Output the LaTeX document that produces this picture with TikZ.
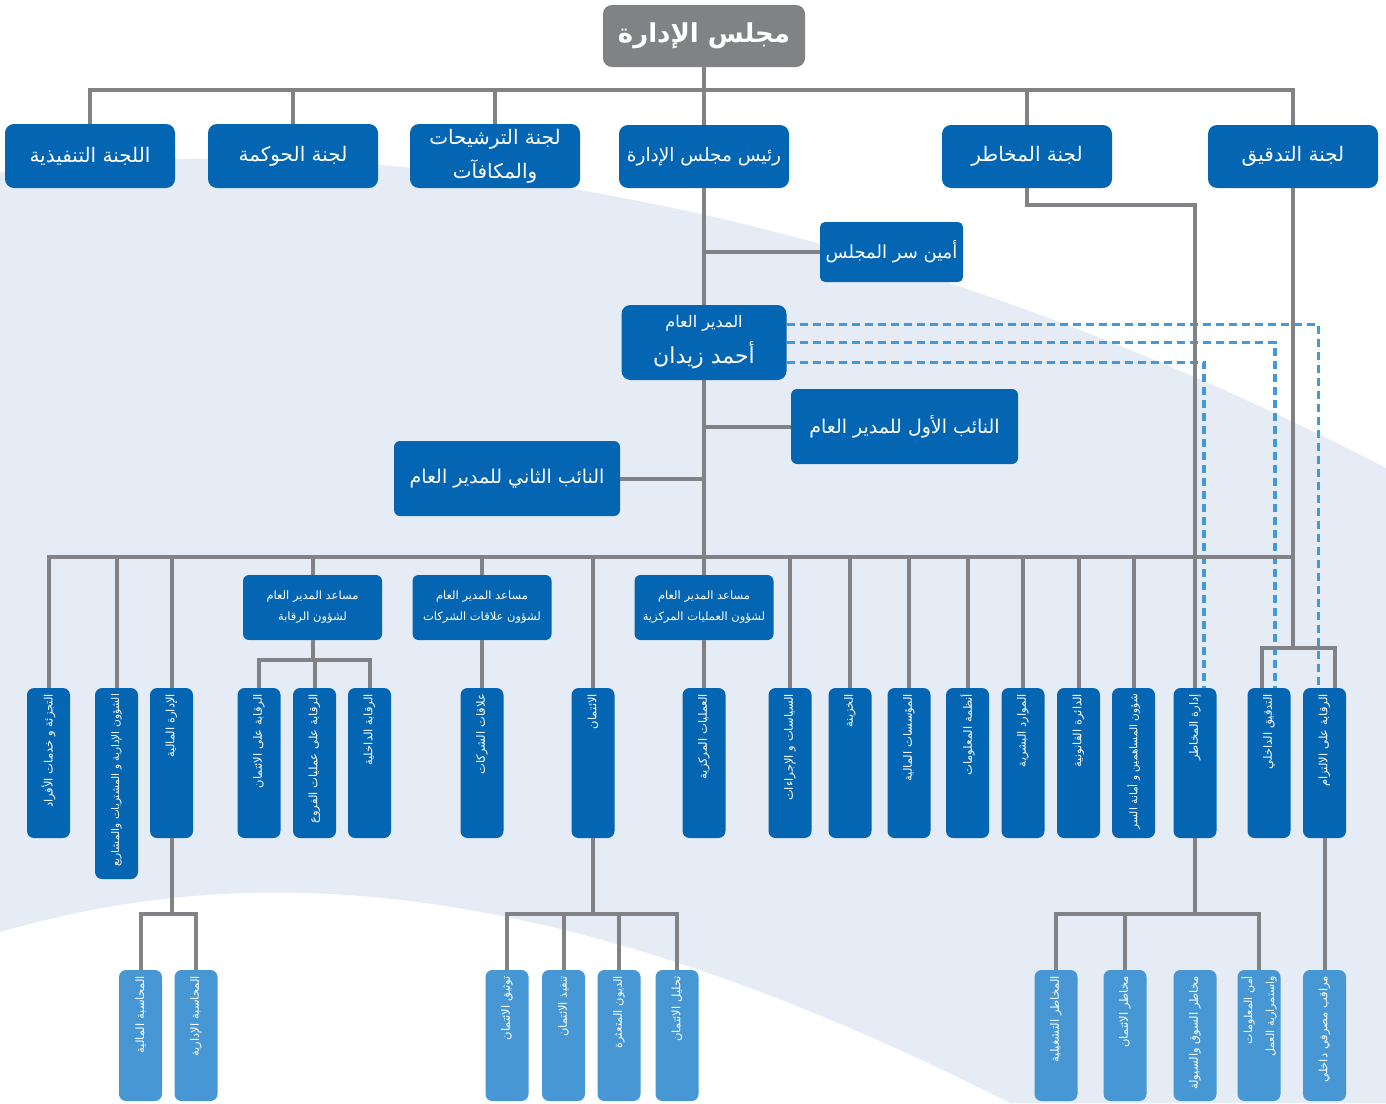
\documentclass[tikz,border=0pt]{standalone}
\usepackage{fontspec}
\TeXXeTstate=1
\newfontfamily\arabicfont[Script=Arabic]{DejaVu Sans}
\newcommand{\artxt}[1]{\beginR #1\endR}
\definecolor{boxblue}{HTML}{0465B2}
\definecolor{lightbox}{HTML}{4697D3}
\definecolor{linegray}{HTML}{818286}
\definecolor{dashblue}{HTML}{4499DA}
\definecolor{bgblue}{HTML}{E6ECF5}

\begin{document}
\begin{tikzpicture}[x=1pt,y=-1pt,
  conn/.style={draw=linegray,line width=4pt},
  dashlink/.style={draw=dashblue,line width=3.5pt,dash pattern=on 8pt off 5pt},
  hbox/.style={fill=boxblue,text=white,rounded corners=9pt,inner sep=0pt,
    align=center,minimum width=170pt,minimum height=64pt,
    font=\arabicfont\fontsize{20}{34}\selectfont},
  asstbox/.style={hbox,minimum width=139pt,minimum height=65pt,rounded corners=6pt,
    font=\arabicfont\fontsize{11.5}{21}\selectfont},
  vbox/.style={fill=boxblue,text=white,rounded corners=7pt,rotate=90,
    minimum width=#1,minimum height=43pt,text width=#1-12pt,align=right,
    inner xsep=6pt,inner ysep=0pt,font=\arabicfont\fontsize{11.5}{13}\selectfont},
  vbox/.default=150pt,
  lowbox/.style={vbox=131pt,fill=lightbox}]

  \useasboundingbox (0,0) rectangle (1386,1103);
  \fill[white] (0,0) rectangle (1386,1103);
  \fill[bgblue] (0,172) .. controls (250,140) and (750,140) .. (1386,468)
    -- (1386,1103) -- (1010,1103) .. controls (550,870) and (250,860) .. (0,932) -- cycle;

  % board and committees
  \node[hbox,fill=linegray,minimum width=202pt,minimum height=62pt,
    font=\arabicfont\bfseries\fontsize{26}{30}\selectfont] (board) at (704,36) {\artxt{مجلس الإدارة}};
  \node[hbox] (execcom) at (90,156) {\artxt{اللجنة التنفيذية}};
  \node[hbox] (govcom) at (293,156) {\artxt{لجنة الحوكمة}};
  \node[hbox] (nomcom) at (495,156) {\artxt{لجنة الترشيحات}\\\artxt{والمكافآت}};
  \node[hbox,minimum height=63pt,font=\arabicfont\fontsize{18.5}{22}\selectfont] (chair) at (704,156.5) {\artxt{رئيس مجلس الإدارة}};
  \node[hbox,minimum height=63pt] (riskcom) at (1027,156.5) {\artxt{لجنة المخاطر}};
  \node[hbox,minimum height=63pt] (auditcom) at (1293,156.5) {\artxt{لجنة التدقيق}};
  \node[hbox,minimum width=143pt,minimum height=60pt,rounded corners=5pt,
    font=\arabicfont\fontsize{18}{22}\selectfont] (secretary) at (891.5,252) {\artxt{أمين سر المجلس}};

  % executive management
  \node[hbox,minimum width=165pt,minimum height=75pt] (ceo) at (704,342.5)
    {{\fontsize{16}{18}\selectfont\artxt{المدير العام}}\\[2pt]{\fontsize{22}{24}\selectfont\artxt{أحمد زيدان}}};
  \node[hbox,minimum width=227pt,minimum height=75pt,rounded corners=6pt,
    font=\arabicfont\fontsize{19}{22}\selectfont] (dep1) at (904.5,426.5) {\artxt{النائب الأول للمدير العام}};
  \node[hbox,minimum width=226pt,minimum height=75pt,rounded corners=6pt,
    font=\arabicfont\fontsize{19}{22}\selectfont] (dep2) at (507,478.5) {\artxt{النائب الثاني للمدير العام}};

  \node[asstbox] (asstctrl) at (312.5,607.5) {\artxt{مساعد المدير العام}\\\artxt{لشؤون الرقابة}};
  \node[asstbox] (asstcorp) at (482,607.5) {\artxt{مساعد المدير العام}\\\artxt{لشؤون علاقات الشركات}};
  \node[asstbox] (asstops) at (704,607.5) {\artxt{مساعد المدير العام}\\\artxt{لشؤون العمليات المركزية}};

  % departments
  \node[vbox] (retail) at (48.5,763) {\artxt{التجزئة و خدمات الأفراد}};
  \node[vbox=191pt,font=\arabicfont\fontsize{10.5}{12}\selectfont] (admin) at (116.5,783.5) {\artxt{الشؤون الإدارية و المشتريات والمشاريع}};
  \node[vbox] (finance) at (171.5,763) {\artxt{الإدارة المالية}};
  \node[vbox] (ctrlcredit) at (259,763) {\artxt{الرقابة على الائتمان}};
  \node[vbox] (ctrlbranch) at (314.5,763) {\artxt{الرقابة على عمليات الفروع}};
  \node[vbox] (ctrlinternal) at (369.5,763) {\artxt{الرقابة الداخلية}};
  \node[vbox] (corprel) at (482,763) {\artxt{علاقات الشركات}};
  \node[vbox] (credit) at (593,763) {\artxt{الائتمان}};
  \node[vbox] (centralops) at (704,763) {\artxt{العمليات المركزية}};
  \node[vbox] (policies) at (790,763) {\artxt{السياسات و الإجراءات}};
  \node[vbox] (treasury) at (850,763) {\artxt{الخزينة}};
  \node[vbox] (finst) at (909,763) {\artxt{المؤسسات المالية}};
  \node[vbox] (infosys) at (967.5,763) {\artxt{أنظمة المعلومات}};
  \node[vbox] (hr) at (1023,763) {\artxt{الموارد البشرية}};
  \node[vbox] (legal) at (1078.5,763) {\artxt{الدائرة القانونية}};
  \node[vbox,font=\arabicfont\fontsize{10.5}{12}\selectfont] (shareholders) at (1133.5,763) {\artxt{شؤون المساهمين و أمانة السر}};
  \node[vbox] (riskmgmt) at (1195,763) {\artxt{إدارة المخاطر}};
  \node[vbox] (intaudit) at (1269,763) {\artxt{التدقيق الداخلي}};
  \node[vbox] (compliance) at (1324.5,763) {\artxt{الرقابة على الالتزام}};

  % sections
  \node[lowbox] (finacc) at (140.5,1035.5) {\artxt{المحاسبة المالية}};
  \node[lowbox] (mgmtacc) at (196,1035.5) {\artxt{المحاسبة الإدارية}};
  \node[lowbox] (creditdoc) at (507,1035.5) {\artxt{توثيق الائتمان}};
  \node[lowbox] (creditexec) at (563.5,1035.5) {\artxt{تنفيذ الائتمان}};
  \node[lowbox] (baddebt) at (619,1035.5) {\artxt{الديون المتعثرة}};
  \node[lowbox] (creditanal) at (677,1035.5) {\artxt{تحليل الائتمان}};
  \node[lowbox] (oprisk) at (1056,1035.5) {\artxt{المخاطر التشغيلية}};
  \node[lowbox] (creditrisk) at (1125,1035.5) {\artxt{مخاطر الائتمان}};
  \node[lowbox] (mktrisk) at (1195,1035.5) {\artxt{مخاطر السوق والسيولة}};
  \node[lowbox,font=\arabicfont\fontsize{11}{22}\selectfont] (infosec) at (1259,1035.5)
    {\artxt{أمن المعلومات}\\\artxt{واستمرارية العمل}};
  \node[lowbox] (bankobs) at (1324.5,1035.5) {\artxt{مراقب مصرفي داخلي}};

  \coordinate (topbar) at (0,90);
  \coordinate (riskbend) at (0,205);
  \coordinate (bus) at (0,557);
  \coordinate (auditbar) at (0,648);
  \coordinate (ctrlbar) at (0,660);
  \coordinate (lowbar) at (0,914);
  \coordinate (iaTop) at ([xshift=-7pt]intaudit.east);
  \coordinate (clTop) at ([xshift=10pt]compliance.east);

  % dotted reporting lines
  \draw[dashlink] ([yshift=18pt]ceo.east) -| ([xshift=-6pt]compliance.east);
  \draw[dashlink] (ceo.east) -| ([xshift=6pt]intaudit.east);
  \draw[dashlink] ([yshift=-20pt]ceo.east) -| ([xshift=9pt]riskmgmt.east);

  % solid lines
  \draw[conn] (execcom.north) |- (auditcom |- topbar) -- (auditcom.north);
  \foreach \n in {govcom,nomcom,riskcom}
    \draw[conn] (\n.north) -- (\n |- topbar);
  \draw[conn] (board.south) -- (chair.north);
  \draw[conn] (chair.south) -- (ceo.north);
  \draw[conn] (secretary.west) -- (secretary.west -| chair);
  \draw[conn] (ceo.south) -- (asstops.north);
  \draw[conn] (dep1.west) -- (dep1.west -| ceo);
  \draw[conn] (dep2.east) -- (dep2.east -| ceo);
  \draw[conn] (riskcom.south) |- (riskmgmt |- riskbend) -- (riskmgmt.east);

  \draw[conn] (retail.east) |- (auditcom |- bus);
  \draw[conn] (auditcom.south) -- (auditcom |- auditbar);
  \draw[conn] (iaTop) |- (clTop |- auditbar) -- (clTop);
  \foreach \n in {admin,finance,credit,policies,treasury,finst,infosys,hr,legal,shareholders}
    \draw[conn] (\n.east) -- (\n |- bus);
  \foreach \n in {asstctrl,asstcorp}
    \draw[conn] (\n.north) -- (\n |- bus);

  \draw[conn] (asstctrl.south) -- (asstctrl |- ctrlbar);
  \draw[conn] (ctrlcredit.east) |- (ctrlinternal |- ctrlbar) -- (ctrlinternal.east);
  \draw[conn] (ctrlbranch.east) -- (ctrlbranch |- ctrlbar);
  \draw[conn] (asstcorp.south) -- (corprel.east);
  \draw[conn] (asstops.south) -- (centralops.east);

  \draw[conn] (finance.west) -- (finance |- lowbar);
  \draw[conn] (finacc.east) |- (mgmtacc |- lowbar) -- (mgmtacc.east);
  \draw[conn] (credit.west) -- (credit |- lowbar);
  \draw[conn] (creditdoc.east) |- (creditanal |- lowbar) -- (creditanal.east);
  \foreach \n in {creditexec,baddebt}
    \draw[conn] (\n.east) -- (\n |- lowbar);
  \draw[conn] (riskmgmt.west) -- (riskmgmt |- lowbar);
  \draw[conn] (oprisk.east) |- (infosec |- lowbar) -- (infosec.east);
  \draw[conn] (creditrisk.east) -- (creditrisk |- lowbar);
  \draw[conn] (compliance.west) -- (bankobs.east);
\end{tikzpicture}
\end{document}
